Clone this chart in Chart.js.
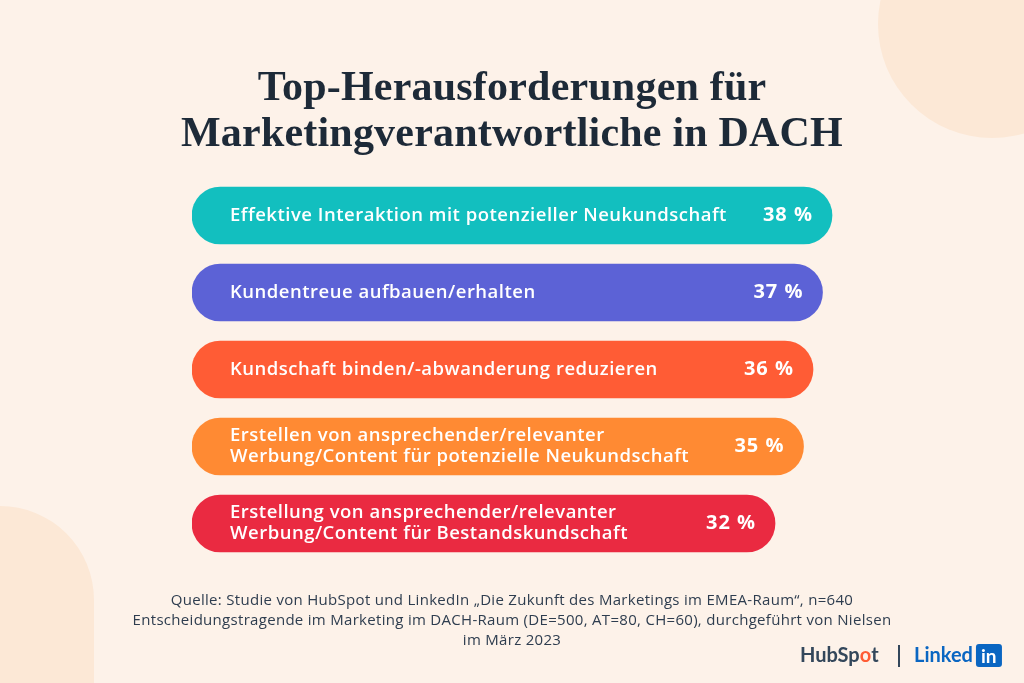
<!DOCTYPE html>
<html>
<head>
<meta charset="utf-8">
<script src="https://cdn.jsdelivr.net/npm/chart.js@4"></script>
<style>
  html, body { margin: 0; padding: 0; background: #fdf2e9; }
  #wrap { width: 1024px; height: 683px; position: relative; }
</style>
</head>
<body>
<div id="wrap"><canvas id="challengesChart" width="1024" height="683"></canvas></div>
<script>
// chart values
const categories = [
    ['Effektive Interaktion mit potenzieller Neukundschaft'],
    ['Kundentreue aufbauen/erhalten'],
    ['Kundschaft binden/-abwanderung reduzieren'],
    ['Erstellen von ansprechender/relevanter', 'Werbung/Content für potenzielle Neukundschaft'],
    ['Erstellung von ansprechender/relevanter', 'Werbung/Content für Bestandskundschaft']
];
const values = [38, 37, 36, 35, 32];
const barColors = ['#12bfbf', '#5c62d6', '#ff5c35', '#ff8a33', '#ea2a41'];

const titleLines = ['Top-Herausforderungen für', 'Marketingverantwortliche in DACH'];
const sourceLines = [
    'Quelle: Studie von HubSpot und LinkedIn „Die Zukunft des Marketings im EMEA-Raum“, n=640',
    'Entscheidungstragende im Marketing im DACH-Raum (DE=500, AT=80, CH=60), durchgeführt von Nielsen',
    'im März 2023'
];

const AXIS_MIN = -29.4;

// background, title, footer and logos
const decorPlugin = {
    id: 'decor',
    beforeDraw(chart) {
        const c = chart.ctx;
        c.save();
        c.fillStyle = '#fdf2e9';
        c.fillRect(0, 0, chart.width, chart.height);
        c.fillStyle = '#fce8d6';
        c.beginPath();
        c.arc(992, 24, 114, 0, Math.PI * 2);
        c.fill();
        c.beginPath();
        c.arc(0, 600, 94, Math.PI, Math.PI * 2);
        c.rect(-94, 600, 188, 100);
        c.fill();

        c.fillStyle = '#1d2a38';
        c.textAlign = 'center';
        c.textBaseline = 'alphabetic';
        c.font = 'bold 42px "Liberation Serif", serif';
        c.letterSpacing = '0.2px';
        c.fillText(titleLines[0], 512, 100);
        c.fillText(titleLines[1], 512, 146);

        c.fillStyle = '#2e3d4f';
        c.font = '15px "Open Sans", sans-serif';
        c.letterSpacing = '0.3px';
        c.textBaseline = 'middle';
        sourceLines.forEach((line, i) => c.fillText(line, 512, 601 + i * 20));

        // logos
        c.letterSpacing = '0px';
        c.textAlign = 'left';
        c.font = 'bold 20px Lato, sans-serif';
        let x = 800;
        const y = 656;
        c.fillStyle = '#33475b';
        c.fillText('HubSp', x, y);
        x += c.measureText('HubSp').width;
        c.fillStyle = '#ff5c35';
        c.fillText('o', x, y);
        x += c.measureText('o').width;
        c.fillStyle = '#33475b';
        c.fillText('t', x, y);
        c.fillRect(898, 645, 2, 22);
        c.fillStyle = '#0a66c2';
        c.fillText('Linked', 914, y);
        const lw = c.measureText('Linked').width;
        c.beginPath();
        c.roundRect(914 + lw + 3, 644, 26, 23, 3);
        c.fill();
        c.fillStyle = '#ffffff';
        c.font = 'bold 19px Lato, sans-serif';
        c.fillText('in', 914 + lw + 8, y + 1);
        c.restore();
    },
    afterDatasetsDraw(chart) {
        const c = chart.ctx;
        const meta = chart.getDatasetMeta(0);
        c.save();
        c.fillStyle = '#ffffff';
        c.textBaseline = 'middle';
        meta.data.forEach((bar, i) => {
            const lines = categories[i];
            c.textAlign = 'left';
            c.font = '600 18.5px "Open Sans", sans-serif';
            c.letterSpacing = '0.5px';
            const lh = 21;
            lines.forEach((line, j) => {
                c.fillText(line, bar.base + 38, bar.y + (j - (lines.length - 1) / 2) * lh);
            });
            c.textAlign = 'right';
            c.font = 'bold 20px "Open Sans", sans-serif';
            c.letterSpacing = '1px';
            c.fillText(values[i] + ' %', bar.x - 19, bar.y);
        });
        c.restore();
    }
};

const ctx = document.getElementById('challengesChart').getContext('2d');
new Chart(ctx, {
    type: 'bar',
    data: {
        labels: categories,
        datasets: [{
            data: values,
            base: AXIS_MIN,
            backgroundColor: barColors,
            borderRadius: 29,
            borderSkipped: false,
            barThickness: 57
        }]
    },
    options: {
        indexAxis: 'y',
        responsive: false,
        animation: false,
        layout: {
            padding: { left: 192, right: 173, top: 177, bottom: 121 }
        },
        scales: {
            x: { display: false, min: AXIS_MIN, max: 40 },
            y: { display: false }
        },
        plugins: {
            legend: { display: false },
            tooltip: { enabled: false }
        }
    },
    plugins: [decorPlugin]
});
</script>
</body>
</html>
